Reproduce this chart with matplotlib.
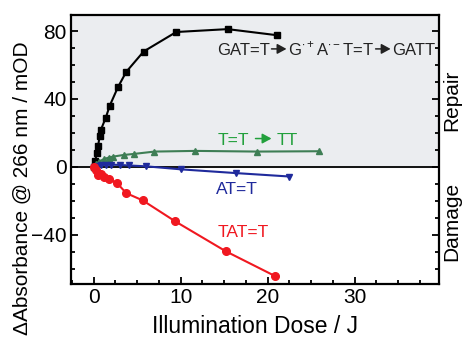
import numpy as np
import matplotlib.pyplot as plt
from matplotlib.ticker import MultipleLocator

plt.rcParams['font.family'] = ['Liberation Sans', 'DejaVu Sans']
plt.rcParams['mathtext.fontset'] = 'custom'
plt.rcParams['mathtext.rm'] = 'Liberation Sans'

# GAT=T (black squares)
gat_x = [0, 0.2, 0.35, 0.5, 0.7, 0.85, 1.4, 1.85, 2.8, 3.75, 5.75, 9.5, 15.4, 21.1]
gat_y = [0, 3.7, 8, 12, 18, 22, 29, 36, 47, 56, 68, 79.5, 81.2, 77.6]

# T=T -> TT (green triangles)
tt_x = [0, 0.3, 0.6, 1.15, 1.75, 2.2, 3.45, 4.6, 7.0, 11.7, 18.8, 25.9]
tt_y = [0, 1.5, 3, 4.5, 5.5, 6, 7, 7.6, 9, 9.4, 9, 9.2]

# AT=T (blue down triangles)
at_x = [0, 0.4, 0.8, 1.4, 2.0, 3.0, 4.05, 6.05, 10.1, 16.4, 22.5]
at_y = [0, 0.5, 1, 1.3, 1.3, 1.1, 0.8, 0.3, -1.5, -3.7, -5.7]

# TAT=T (red circles)
tat_x = [0, 0.3, 0.5, 0.9, 1.25, 1.75, 2.7, 3.75, 5.65, 9.4, 15.2, 20.9]
tat_y = [0, -2, -4.7, -4, -5.7, -7.2, -9.6, -15.5, -19.8, -32.2, -49.8, -64.5]

fig = plt.figure(figsize=(4.64, 3.42), dpi=100)
ax = fig.add_axes([0.153, 0.170, 0.793, 0.786])

ax.set_xlim(-2.6, 39.7)
ax.set_ylim(-69, 89.5)
ax.axhspan(0, 89.5, color='#ebedf0', zorder=0)
ax.axhline(0, color='black', lw=1.3, zorder=1)

ax.plot(gat_x, gat_y, '-s', color='black', ms=4.5, lw=1.5, zorder=3)
ax.plot(tt_x, tt_y, '-^', color='#3e7e55', ms=5, lw=1.5, zorder=3)
ax.plot(at_x, at_y, '-v', color='#1f2a9c', ms=5, lw=1.5, zorder=3)
ax.plot(tat_x, tat_y, '-o', color='#f01820', ms=5.5, lw=1.5, zorder=3)

renderer = fig.canvas.get_renderer()


def chain(x, y, parts, color, fs=12):
    # text pieces joined by drawn arrows, laid out in figure pixels
    cx, by = ax.transData.transform((x, y))
    for p in parts:
        if isinstance(p, tuple):
            g1, length, g2 = p
            ay = by + 0.36 * fs * 1.389
            ax.annotate('', xy=(cx + g1 + length, ay), xytext=(cx + g1, ay),
                        xycoords='figure pixels', textcoords='figure pixels',
                        arrowprops=dict(arrowstyle='-|>,head_length=0.55,head_width=0.3',
                                        color=color, lw=1.1, mutation_scale=10,
                                        shrinkA=0, shrinkB=0))
            cx += g1 + length + g2
        else:
            t = ax.annotate(p, xy=(cx, by), xycoords='figure pixels', fontsize=fs,
                            color=color, ha='left', va='baseline')
            cx = t.get_window_extent(renderer).x1


chain(14.2, 66, ['GAT=T', (1.5, 15, 1.5), 'G$^{\\bullet+}$A$^{\\bullet-}$T=T',
                 (1.5, 15, 1.5), 'GATT'], '#222222')
chain(14.3, 13, ['T=T', (6, 16, 5), 'TT'], '#22a03c', fs=12.5)
ax.text(14.1, -13.5, 'AT=T', fontsize=12.5, va='center', ha='left', color='#1f2a9c')
ax.text(14.3, -39, 'TAT=T', fontsize=12.5, va='center', ha='left', color='#f01820')

trans = ax.get_yaxis_transform()
ax.text(1.035, 39, 'Repair', transform=trans, rotation=90, fontsize=15,
        va='center', ha='center')
ax.text(1.035, -32, 'Damage', transform=trans, rotation=90, fontsize=15,
        va='center', ha='center')

ax.xaxis.set_major_locator(MultipleLocator(10))
ax.xaxis.set_minor_locator(MultipleLocator(2.5))
ax.yaxis.set_major_locator(MultipleLocator(40))
ax.yaxis.set_minor_locator(MultipleLocator(10))
ax.tick_params(which='both', direction='in', right=True, top=False, width=1.3)
ax.tick_params(which='major', length=5, labelsize=15, pad=3)
ax.tick_params(which='minor', length=3)
for s in ax.spines.values():
    s.set_linewidth(1.6)

ax.set_xlabel('Illumination Dose / J', fontsize=16.5, labelpad=6)
ax.set_ylabel('\u0394Absorbance @ 266 nm / mOD', fontsize=15)
ax.yaxis.set_label_coords(-0.108, 0.355)

fig.savefig('out.png', dpi=100)
